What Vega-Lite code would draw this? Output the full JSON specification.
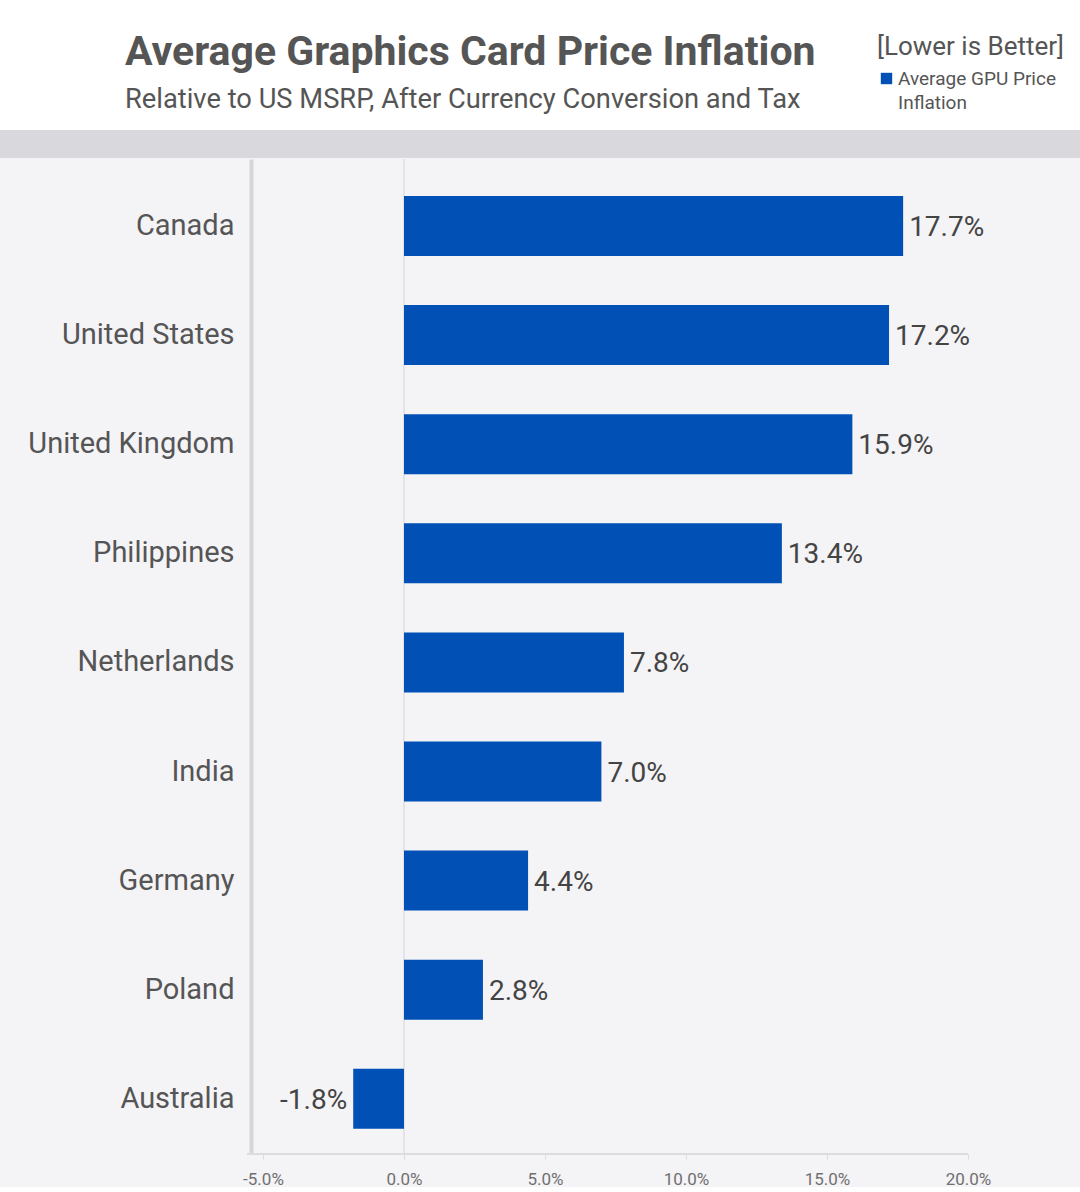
{
  "$schema": "https://vega.github.io/schema/vega-lite/v6.json",
  "description": "Average graphics card price inflation by country, relative to US MSRP.",
  "background": "#f4f3f6",
  "padding": 0,
  "spacing": 0,
  "config": {
    "font": "Roboto",
    "view": {"stroke": null},
    "axis": {"grid": false},
    "style": {"guide-label": {"lineHeight": 24}}
  },
  "vconcat": [
    {
      "width": 1080,
      "height": 130,
      "view": {"fill": "#ffffff", "stroke": null},
      "title": {
        "text": "Average Graphics Card Price Inflation",
        "subtitle": "Relative to US MSRP, After Currency Conversion and Tax",
        "anchor": "start",
        "orient": "top",
        "offset": -114,
        "dx": 125,
        "font": "Roboto",
        "fontSize": 41,
        "fontWeight": "bold",
        "color": "#555555",
        "subtitleFont": "Roboto",
        "subtitleFontSize": 27.3,
        "subtitleColor": "#555555",
        "subtitlePadding": 12
      },
      "data": {"values": [{"series": "Average GPU Price Inflation"}]},
      "mark": {"type": "square", "opacity": 0, "filled": true},
      "encoding": {
        "color": {
          "field": "series",
          "type": "nominal",
          "scale": {"range": ["#0050b5"]},
          "legend": {
            "orient": "none",
            "legendX": 877,
            "legendY": 34,
            "title": "[Lower is Better]",
            "titleFont": "Roboto",
            "titleFontSize": 26,
            "titleFontWeight": "normal",
            "titleColor": "#555555",
            "titlePadding": 9,
            "titleLimit": 400,
            "symbolType": "square",
            "symbolSize": 130,
            "symbolFillColor": "#0050b5",
            "symbolStrokeColor": "#0050b5",
            "symbolStrokeWidth": 0,
            "symbolOpacity": 1,
            "labelFont": "Roboto",
            "labelFontSize": 19,
            "labelColor": "#555555",
            "labelOffset": 2,
            "labelBaseline": "middle",
            "labelLimit": 300,
            "labelExpr": "['Average GPU Price', 'Inflation']"
          }
        }
      }
    },
    {
      "width": 1080,
      "height": 28,
      "view": {"fill": "#d9d8dc", "stroke": null},
      "data": {"values": [{"band": 1}]},
      "mark": {"type": "point", "opacity": 0}
    },
    {
      "width": 1080,
      "height": 995,
      "data": {
        "values": [
          {"country": "Canada", "inflation": 0.177},
          {"country": "United States", "inflation": 0.172},
          {"country": "United Kingdom", "inflation": 0.159},
          {"country": "Philippines", "inflation": 0.134},
          {"country": "Netherlands", "inflation": 0.078},
          {"country": "India", "inflation": 0.070},
          {"country": "Germany", "inflation": 0.044},
          {"country": "Poland", "inflation": 0.028},
          {"country": "Australia", "inflation": -0.018}
        ]
      },
      "encoding": {
        "y": {
          "field": "country",
          "type": "nominal",
          "sort": null,
          "scale": {
            "domain": ["Canada", "United States", "United Kingdom", "Philippines", "Netherlands", "India", "Germany", "Poland", "Australia"],
            "paddingInner": 0.45,
            "paddingOuter": 0.285,
            "align": 0.595
          },
          "axis": {
            "title": null,
            "orient": "left",
            "offset": -251,
            "domainColor": "#d6d5d9",
            "domainWidth": 4,
            "ticks": false,
            "labelPadding": 17,
            "labelFont": "Roboto",
            "labelFontSize": 29,
            "labelColor": "#555555",
            "labelLimit": 400
          }
        }
      },
      "layer": [
        {
          "mark": {"type": "rule", "color": "#e4e3e7", "strokeWidth": 1},
          "encoding": {
            "x": {"datum": 0, "type": "quantitative"},
            "y": null
          }
        },
        {
          "mark": {"type": "rule", "color": "#dcdbe0", "strokeWidth": 1.5},
          "encoding": {
            "x": {"datum": -0.0555, "type": "quantitative"},
            "x2": {"datum": 0.2},
            "y": {"datum": "Australia", "type": "nominal", "bandPosition": 1.417}
          }
        },
        {
          "mark": {"type": "bar", "color": "#0050b5"},
          "encoding": {
            "x": {
              "field": "inflation",
              "type": "quantitative",
              "scale": {"domain": [-0.14326, 0.23972], "nice": false, "zero": false},
              "axis": {
                "title": null,
                "values": [-0.05, 0, 0.05, 0.1, 0.15, 0.2],
                "labelExpr": "replace(format(datum.value, '.1%'), '\u2212', '-')",
                "domain": false,
                "ticks": true,
                "tickColor": "#dcdbe0",
                "tickSize": 5,
                "labelPadding": 12,
                "labelFont": "Roboto",
                "labelFontSize": 17,
                "labelColor": "#707070"
              }
            }
          }
        },
        {
          "mark": {
            "type": "text",
            "font": "Roboto",
            "fontSize": 28,
            "color": "#444444",
            "baseline": "middle",
            "dy": 2,
            "align": {"expr": "datum.inflation < 0 ? 'right' : 'left'"},
            "dx": {"expr": "datum.inflation < 0 ? -6 : 6"},
            "text": {"expr": "replace(format(datum.inflation, '.1%'), '\u2212', '-')"}
          },
          "encoding": {
            "x": {"field": "inflation", "type": "quantitative"}
          }
        }
      ]
    }
  ]
}
